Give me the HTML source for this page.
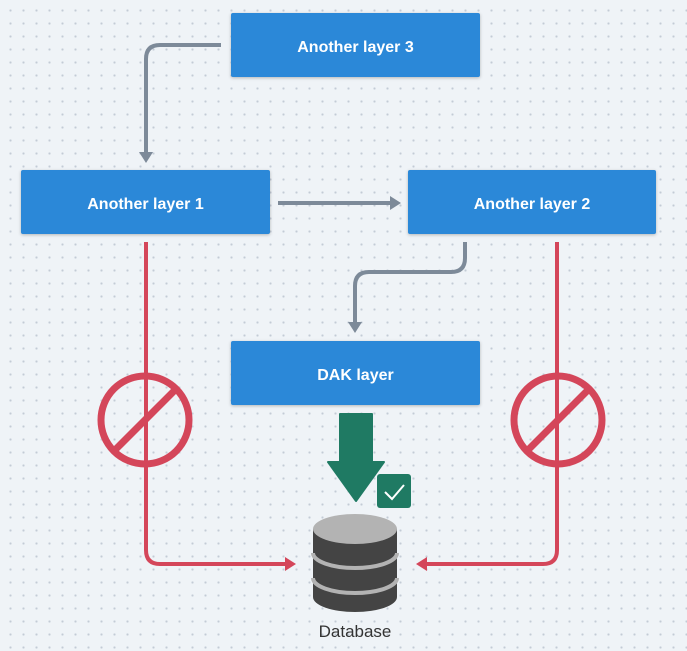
<!DOCTYPE html>
<html><head><style>
body{margin:0;width:687px;height:651px;overflow:hidden;background-color:#eff3f7;background-image:radial-gradient(circle,#c3cbd6 1px,transparent 1.2px);background-size:13px 13px;background-position:4px 4px;font-family:"Liberation Sans",sans-serif;}
.b{position:absolute;box-sizing:border-box;padding-top:6px;background:#2b88d8;color:#fff;font-weight:bold;font-size:16px;display:flex;align-items:center;justify-content:center;border-radius:2px;box-shadow:0 1px 3px rgba(0,0,0,.25);}
svg{position:absolute;left:0;top:0}
</style></head><body>
<svg width="687" height="651">
<g fill="none" stroke="#7d8a99" stroke-width="4">
<path d="M221 45 H160 Q146 45 146 59 V154"/>
<path d="M278 203 H392"/>
<path d="M465 242 V258 Q465 272 451 272 H369 Q355 272 355 286 V324"/>
</g>
<g fill="#7d8a99">
<path d="M139 152 L153 152 L146 163Z"/>
<path d="M390 196 L390 210 L401 203Z"/>
<path d="M348 322 L362 322 L355 333Z"/>
</g>
<g fill="none" stroke="#d4465a" stroke-width="4">
<path d="M146 242 V550 Q146 564 160 564 H288"/>
<path d="M557 242 V550 Q557 564 543 564 H424"/>
<circle cx="145" cy="420" r="44" stroke-width="7"/>
<circle cx="558" cy="420" r="44" stroke-width="7"/>
<path d="M114 451 L176 389" stroke-width="7"/>
<path d="M527 451 L589 389" stroke-width="7"/>
</g>
<g fill="#d4465a">
<path d="M285 557 L296 564 L285 571Z"/>
<path d="M427 557 L416 564 L427 571Z"/>
</g>
<path d="M340 414 H372 V462 H384 L356 501 L328 462 H340Z" fill="#1f7a63" stroke="#1f7a63" stroke-linejoin="round" stroke-width="2"/>
<rect x="377" y="474" width="34" height="34" rx="3" fill="#1f7a63"/>
<path d="M385 492 L392 499 L404 485" stroke="#fff" stroke-width="2" fill="none"/>
<path d="M313 529 V597 A42 15 0 0 0 397 597 V529Z" fill="#444"/>
<ellipse cx="355" cy="529" rx="42" ry="15" fill="#b3b3b3"/>
<path d="M313 553 A42 15 0 0 0 397 553" stroke="#b3b3b3" stroke-width="4" fill="none"/>
<path d="M313 578 A42 15 0 0 0 397 578" stroke="#b3b3b3" stroke-width="4" fill="none"/>
<text x="355" y="637" text-anchor="middle" font-size="17" fill="#333" font-family="Liberation Sans, sans-serif">Database</text>
</svg>
<div class="b" style="left:231px;top:13px;width:249px;height:64px">Another layer 3</div>
<div class="b" style="left:21px;top:170px;width:249px;height:64px">Another layer 1</div>
<div class="b" style="left:408px;top:170px;width:248px;height:64px">Another layer 2</div>
<div class="b" style="left:231px;top:341px;width:249px;height:64px">DAK layer</div>
</body></html>
